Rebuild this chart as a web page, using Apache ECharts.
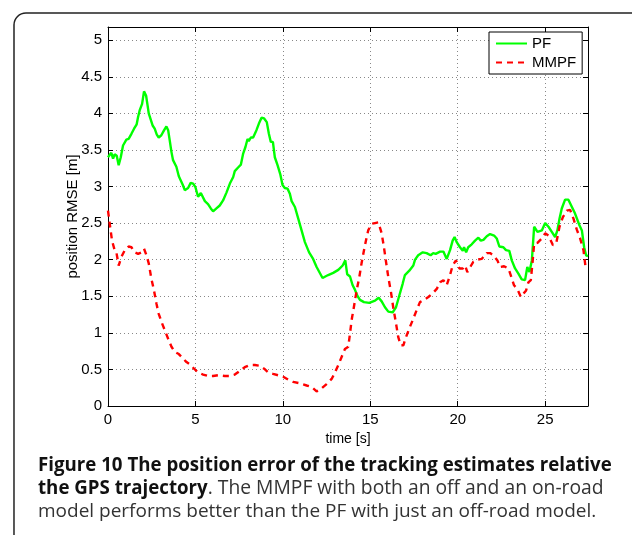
<!DOCTYPE html>
<html>
<head>
<meta charset="utf-8">
<script src="https://cdn.jsdelivr.net/npm/echarts@6/dist/echarts.min.js"></script>
<style>
html,body{margin:0;padding:0;background:#fff;}
#chart{width:632px;height:535px;}
</style>
</head>
<body>
<div id="chart"></div>
<script>
// ---- data ----
var seriesNames = ['PF', 'MMPF'];
var pfX = [0,0.19,0.29,0.38,0.5,0.61,0.73,0.86,1.05,1.18,1.34,1.49,1.64,1.72,1.81,1.87,1.95,2.06,2.18,2.25,2.33,2.44,2.56,2.67,2.79,2.90,3.05,3.21,3.34,3.44,3.53,3.63,3.72,3.91,4.05,4.16,4.28,4.39,4.58,4.73,4.87,5.0,5.15,5.31,5.40,5.54,5.72,5.88,6.01,6.2,6.39,6.58,6.78,6.97,7.16,7.25,7.44,7.6,7.73,7.86,7.98,8.05,8.17,8.3,8.49,8.63,8.78,8.93,9.08,9.2,9.31,9.43,9.54,9.7,9.85,9.98,10.11,10.27,10.4,10.5,10.69,10.88,11.07,11.26,11.5,11.73,11.93,12.27,12.59,12.88,13.17,13.42,13.57,13.68,13.84,13.99,14.12,14.25,14.41,14.64,14.94,15.27,15.48,15.65,15.84,16.03,16.28,16.47,16.66,16.85,16.98,17.23,17.46,17.56,17.74,18.0,18.22,18.45,18.6,18.74,18.99,19.18,19.37,19.56,19.71,19.82,19.94,20.13,20.29,20.36,20.48,20.6,20.8,20.99,21.18,21.32,21.47,21.66,21.85,22.08,22.23,22.38,22.61,22.76,22.95,23.09,23.28,23.47,23.66,23.85,23.98,24.1,24.24,24.37,24.56,24.81,25.0,25.19,25.38,25.57,25.7,25.82,25.95,26.14,26.33,26.53,26.71,26.96,27.1,27.23,27.34,27.45];
var pfY = [3.40,3.46,3.38,3.44,3.42,3.29,3.40,3.56,3.64,3.65,3.72,3.79,3.85,3.95,4.04,4.02,4.13,4.30,4.24,4.13,4.00,3.98,3.83,3.79,3.71,3.67,3.70,3.77,3.82,3.77,3.63,3.47,3.36,3.27,3.14,3.12,3.02,2.95,2.98,3.05,3.04,2.99,2.86,2.91,2.89,2.80,2.76,2.70,2.66,2.70,2.74,2.81,2.92,3.04,3.13,3.21,3.26,3.30,3.45,3.54,3.65,3.62,3.67,3.67,3.77,3.86,3.94,3.93,3.88,3.72,3.61,3.61,3.40,3.29,3.17,3.02,2.98,2.97,2.90,2.80,2.72,2.56,2.40,2.24,2.10,2.01,1.90,1.75,1.79,1.82,1.86,1.92,1.99,1.80,1.77,1.65,1.59,1.51,1.45,1.42,1.41,1.44,1.48,1.43,1.35,1.29,1.28,1.35,1.51,1.67,1.79,1.85,1.92,2.00,2.06,2.10,2.09,2.06,2.09,2.08,2.11,2.11,2.01,2.13,2.26,2.31,2.24,2.17,2.12,2.17,2.10,2.17,2.21,2.26,2.30,2.26,2.27,2.32,2.35,2.33,2.29,2.18,2.17,2.13,2.12,1.99,1.88,1.81,1.73,1.72,1.90,1.83,1.99,2.45,2.38,2.40,2.50,2.45,2.38,2.31,2.40,2.56,2.70,2.82,2.82,2.72,2.63,2.47,2.40,2.17,2.06,2.05];
var mmpfX = [0,0.1,0.23,0.38,0.48,0.61,0.77,0.96,1.18,1.34,1.53,1.72,1.91,2.06,2.2,2.33,2.48,2.63,2.77,2.9,3.09,3.29,3.47,3.63,3.82,4.05,4.29,4.49,4.73,4.92,5.15,5.44,5.72,6.01,6.3,6.68,6.97,7.25,7.54,7.82,8.11,8.4,8.68,8.93,9.16,9.44,9.73,10.02,10.3,10.59,10.97,11.36,11.64,11.93,12.21,12.5,12.79,12.98,13.17,13.36,13.55,13.74,13.84,13.93,14.06,14.22,14.37,14.5,14.64,14.75,14.88,15.08,15.27,15.46,15.65,15.78,15.9,16.03,16.18,16.31,16.47,16.6,16.74,16.89,17.04,17.23,17.42,17.65,17.84,18.07,18.32,18.57,18.8,18.99,19.18,19.37,19.56,19.71,19.9,20.1,20.29,20.42,20.55,20.74,20.89,21.12,21.37,21.66,21.85,22.04,22.27,22.42,22.65,22.9,23.03,23.22,23.41,23.61,23.72,23.91,24.04,24.18,24.29,24.37,24.56,24.81,25.0,25.19,25.44,25.63,25.82,26.01,26.24,26.43,26.62,26.81,27.0,27.19,27.3,27.45];
var mmpfY = [2.67,2.49,2.26,2.13,2.10,1.92,2.04,2.13,2.18,2.17,2.10,2.08,2.10,2.15,2.06,1.95,1.74,1.58,1.40,1.26,1.13,1.01,0.90,0.81,0.74,0.71,0.65,0.60,0.56,0.51,0.46,0.43,0.41,0.41,0.42,0.41,0.41,0.43,0.48,0.53,0.56,0.56,0.55,0.51,0.46,0.44,0.42,0.40,0.36,0.33,0.31,0.28,0.26,0.20,0.24,0.30,0.37,0.46,0.56,0.67,0.78,0.81,0.99,1.17,1.35,1.58,1.76,1.95,2.13,2.26,2.40,2.49,2.50,2.51,2.36,2.17,1.97,1.76,1.56,1.35,1.13,0.94,0.83,0.83,0.94,1.06,1.17,1.31,1.42,1.45,1.49,1.54,1.60,1.69,1.72,1.65,1.79,1.92,1.99,1.88,1.88,1.92,1.83,1.91,1.97,2.00,2.01,2.09,2.09,2.06,1.99,1.90,1.91,1.88,1.79,1.65,1.60,1.49,1.47,1.58,1.69,1.72,1.99,2.22,2.23,2.29,2.36,2.33,2.20,2.22,2.45,2.58,2.67,2.68,2.56,2.41,2.29,2.13,1.92,1.95];
var xTicks = [0, 5, 10, 15, 20, 25];
var yTicks = [0, 0.5, 1, 1.5, 2, 2.5, 3, 3.5, 4, 4.5, 5];
var xAxisName = 'time [s]';
var yAxisName = 'position RMSE [m]';
var captionBold1 = 'Figure 10 The position error of the tracking estimates relative';
var captionBold2 = 'the GPS trajectory';
var captionNormal2 = '. The MMPF with both an off and an on-road';
var captionNormal3 = 'model performs better than the PF with just an off-road model.';

// ---- chart ----
function zip(xs, ys){ return xs.map(function(x,i){ return [x, ys[i]]; }); }
var X_MAX = 27.45, Y_MAX = 5.18;
var tickFont = '"Liberation Sans", Arial, sans-serif';
var capFont = '"Open Sans", sans-serif';
function isTick(list, v){ return list.some(function(t){ return Math.abs(t - v) < 1e-6; }); }

var chart = echarts.init(document.getElementById('chart'), null, {renderer:'canvas'});
var gridLine = {show:true, lineStyle:{color:'#888', width:1, type:[1,3]}};
var baseX = {type:'value', min:0, max:X_MAX, interval:5,
  axisLine:{show:true, onZero:false, lineStyle:{color:'#000', width:1}},
  axisTick:{show:true, inside:true, length:5, lineStyle:{color:'#000'}}};
var baseY = {type:'value', min:0, max:Y_MAX, interval:0.5,
  axisLine:{show:true, onZero:false, lineStyle:{color:'#000', width:1}},
  axisTick:{show:true, inside:true, length:5, lineStyle:{color:'#000'}}};

chart.setOption({
  animation:false,
  backgroundColor:'#fff',
  grid:{left:108, right:44, top:27, bottom:129, containLabel:false},
  xAxis:[
    Object.assign({}, baseX, {position:'bottom', name:xAxisName, nameLocation:'middle', nameGap:22,
      nameTextStyle:{fontFamily:tickFont, fontSize:14, color:'#000'},
      axisLabel:{show:true, margin:6, fontFamily:tickFont, fontSize:15, color:'#000', showMaxLabel:false,
        formatter:function(v){ return isTick(xTicks, v) ? String(v) : ''; }},
      splitLine:gridLine}),
    Object.assign({}, baseX, {position:'top', axisLabel:{show:false}, splitLine:{show:false}})
  ],
  yAxis:[
    Object.assign({}, baseY, {position:'left', name:yAxisName, nameLocation:'middle', nameGap:28,
      nameMoveOverlap:false,
      nameTextStyle:{fontFamily:tickFont, fontSize:15, color:'#000'},
      axisLabel:{show:true, margin:6, fontFamily:tickFont, fontSize:15, color:'#000', showMaxLabel:false,
        formatter:function(v){ return isTick(yTicks, v) ? String(v) : ''; }},
      splitLine:gridLine}),
    Object.assign({}, baseY, {position:'right', axisLabel:{show:false}, splitLine:{show:false}})
  ],
  legend:{
    orient:'vertical', left:489, top:32, padding:[4,6,4,6], itemGap:4,
    itemWidth:31, itemHeight:14, backgroundColor:'#fff', borderColor:'#000', borderWidth:1,
    itemStyle:{opacity:0},
    textStyle:{fontFamily:tickFont, fontSize:15, color:'#000'},
    data:seriesNames
  },
  series:[
    {name:seriesNames[0], type:'line', data:zip(pfX, pfY), symbol:'none', showSymbol:false,
      lineStyle:{color:'#00ff00', width:2.4}, itemStyle:{color:'#00ff00'}, z:3, clip:true},
    {name:seriesNames[1], type:'line', data:zip(mmpfX, mmpfY), symbol:'none', showSymbol:false,
      lineStyle:{color:'#ff0000', width:2.4, type:[6,5]}, itemStyle:{color:'#ff0000'}, z:4, clip:true}
  ],
  graphic:[
    {type:'rect', shape:{x:14, y:13, width:660, height:620, r:12},
      style:{fill:'none', stroke:'#222', lineWidth:1.5}, silent:true},
    {type:'text', left:38, top:456,
      style:{text:captionBold1, font:'bold 18.7px ' + capFont, fill:'#111'}},
    {type:'text', left:38, top:479,
      style:{text:'{b|' + captionBold2 + '}{n|' + captionNormal2 + '}',
        rich:{b:{font:'bold 18.7px ' + capFont, fill:'#111'},
              n:{font:'19.3px ' + capFont, fill:'#333'}}}},
    {type:'text', left:38, top:502,
      style:{text:captionNormal3, font:'19px ' + capFont, fill:'#333'}}
  ]
});
</script>
</body>
</html>
